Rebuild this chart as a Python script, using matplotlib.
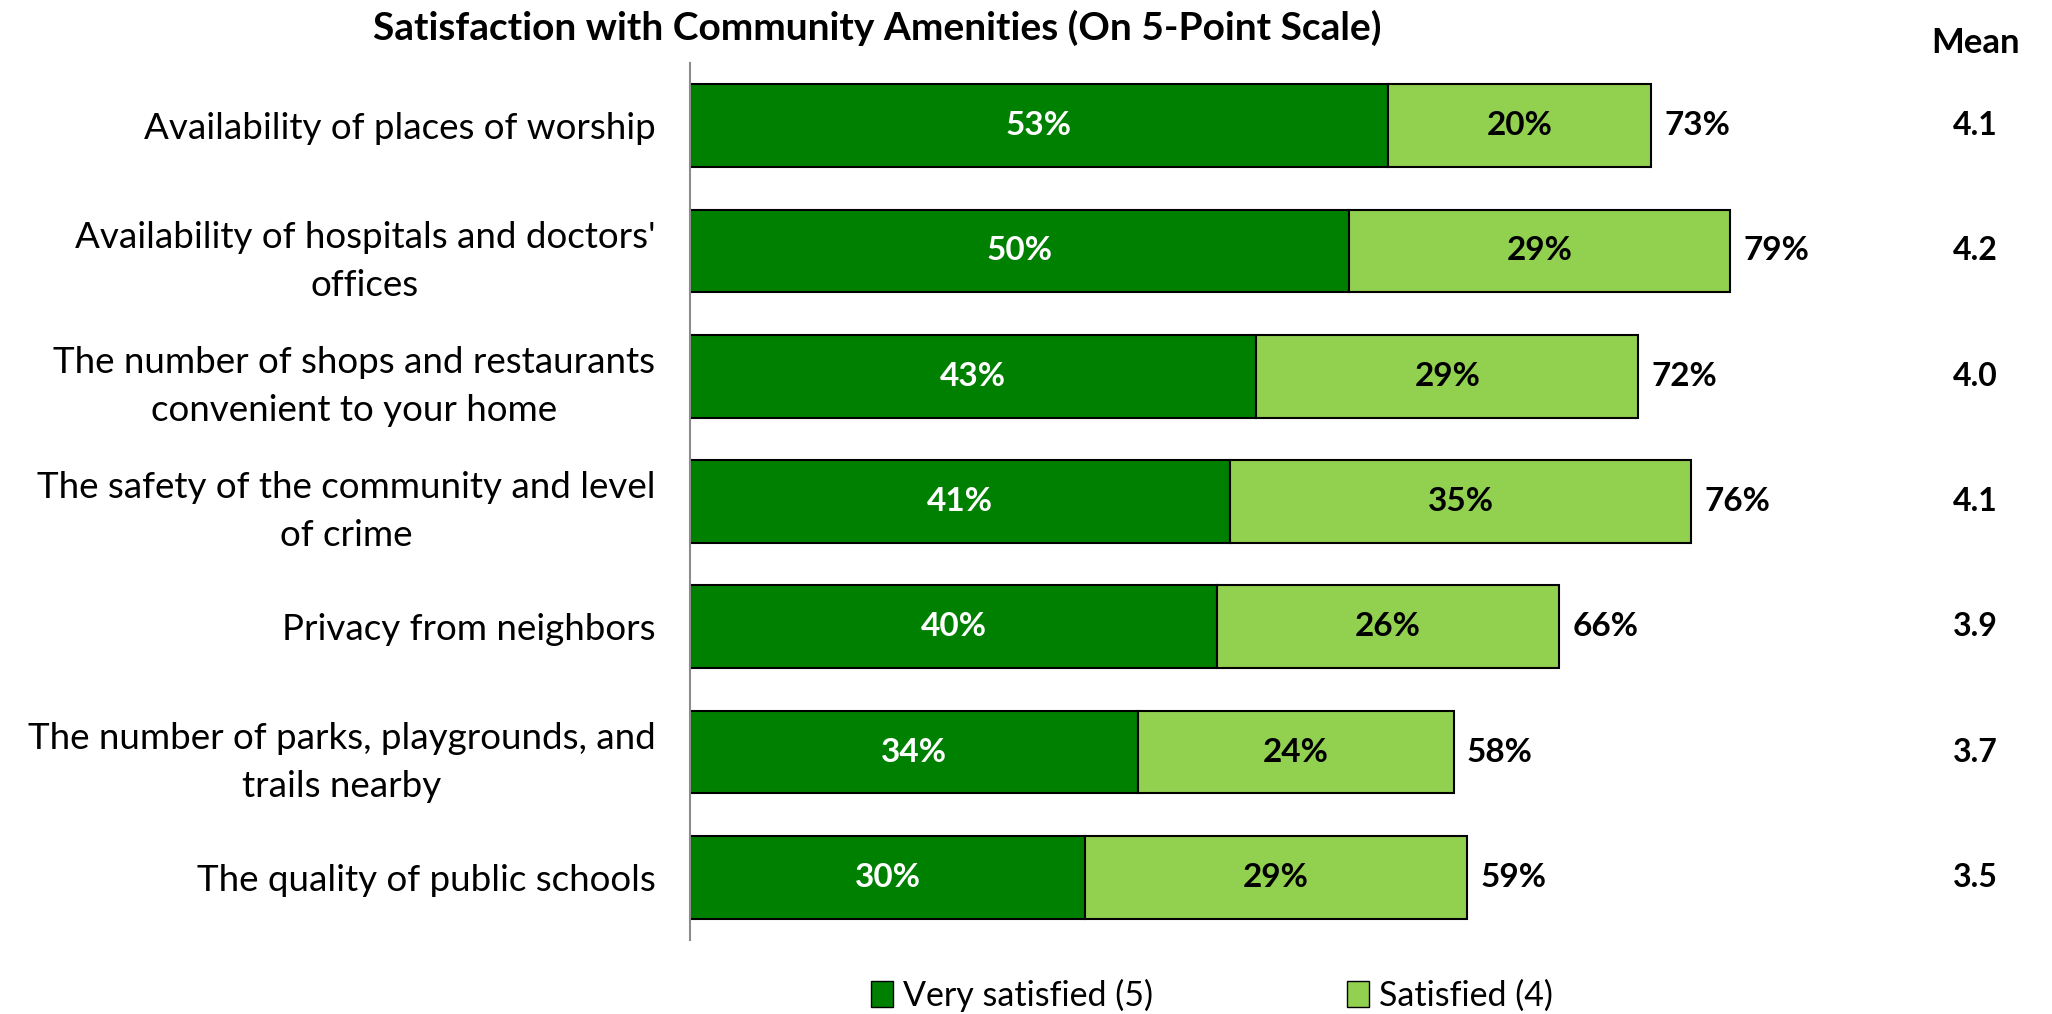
import matplotlib
matplotlib.use('Agg')
from matplotlib import pyplot as plt
from matplotlib.patches import Patch

plt.rcParams['font.family'] = ['Lato', 'DejaVu Sans']

CHART_TITLE = 'Satisfaction with Community Amenities (On 5-Point Scale)'
DARK_GREEN = '#008000'
LIGHT_GREEN = '#92D050'

categories = [
    'Availability of places of worship',
    "Availability of hospitals and doctors'\noffices",
    'The number of shops and restaurants\nconvenient to your home',
    'The safety of the community and level\nof crime',
    'Privacy from neighbors',
    'The number of parks, playgrounds, and\ntrails nearby',
    'The quality of public schools',
]
very_satisfied = [53, 50, 43, 41, 40, 34, 30]
satisfied = [20, 29, 29, 35, 26, 24, 29]
means = [4.1, 4.2, 4.0, 4.1, 3.9, 3.7, 3.5]

VALUE_SIZE = 24
MEAN_X = 97.6

fig = plt.figure(figsize=(20.52, 10.14), dpi=100)
ax = fig.add_axes([690 / 2052, 1 - 940 / 1014, 1317 / 2052, 877 / 1014])

ypos = list(range(len(categories)))
bar_h = 0.66
ax.barh(ypos, very_satisfied, height=bar_h, color=DARK_GREEN,
        edgecolor='black', linewidth=1.5)
ax.barh(ypos, satisfied, left=very_satisfied, height=bar_h, color=LIGHT_GREEN,
        edgecolor='black', linewidth=1.5)

for y, v, s in zip(ypos, very_satisfied, satisfied):
    ax.text(v / 2, y, f'{v}%', ha='center', va='center', color='white',
            fontsize=VALUE_SIZE, fontweight='bold')
    ax.text(v + s / 2, y, f'{s}%', ha='center', va='center', color='black',
            fontsize=VALUE_SIZE, fontweight='bold')
    ax.text(v + s + 1.0, y, f'{v + s}%', ha='left', va='center', color='black',
            fontsize=VALUE_SIZE, fontweight='bold')

# mean column to the right of the bars
for y, m in zip(ypos, means):
    ax.text(MEAN_X, y, f'{m:.1f}', ha='center', va='center', fontsize=23,
            fontweight='bold')
ax.text(MEAN_X, -0.66, 'Mean', ha='center', va='center', fontsize=25,
        fontweight='bold').set_clip_on(False)

ax.set_xlim(0, 100)
ax.set_ylim(6.5, -0.5)
ax.set_yticks(ypos)
ax.set_yticklabels(categories, fontsize=26.5, multialignment='center',
                   linespacing=1.55)
ax.tick_params(axis='y', length=0, pad=25)
ax.set_xticks([])
for side in ['top', 'right', 'bottom']:
    ax.spines[side].set_visible(False)
ax.spines['left'].set_color('#8c8c8c')
ax.spines['left'].set_linewidth(1.5)

fig.text(877 / 2052, 1 - 28 / 1014, CHART_TITLE, ha='center', va='center',
         fontsize=28, fontweight='bold')

handles = [Patch(facecolor=DARK_GREEN, edgecolor='black', label='Very satisfied (5)'),
           Patch(facecolor=LIGHT_GREEN, edgecolor='black', label='Satisfied (4)')]
fig.legend(handles=handles, loc='center', bbox_to_anchor=(1212 / 2052, 1 - 995 / 1014),
           ncol=2, frameon=False, fontsize=24.5, columnspacing=5.7,
           handlelength=0.65, handleheight=0.8, handletextpad=0.3)

plt.savefig('out.png', dpi=100)
